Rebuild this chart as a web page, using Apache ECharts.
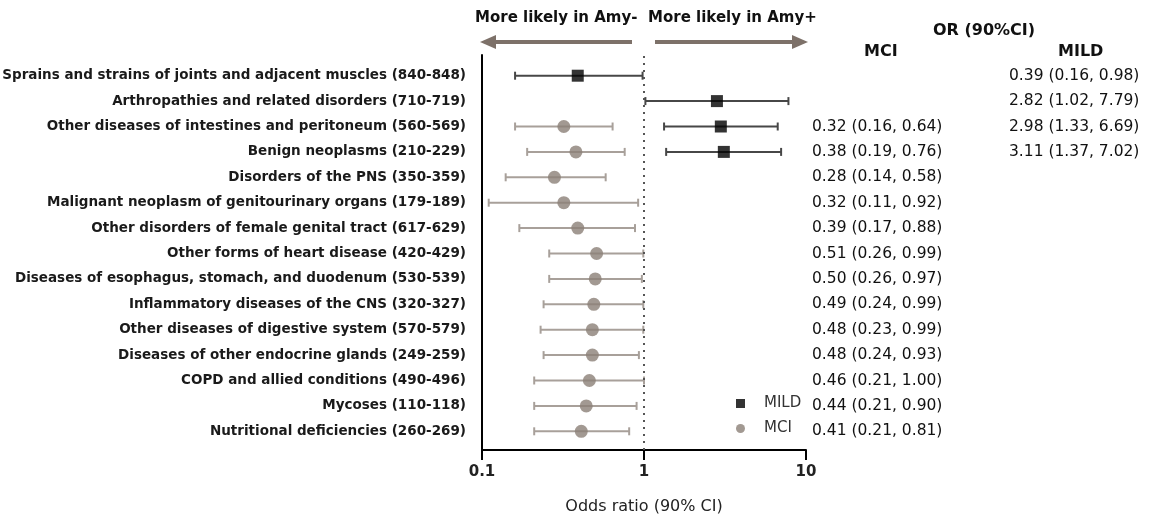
<!DOCTYPE html>
<html>
<head>
<meta charset="utf-8">
<script src="https://cdn.jsdelivr.net/npm/echarts@6/dist/echarts.min.js"></script>
<style>
  html, body { margin: 0; padding: 0; background: #fff; }
  #main { width: 1150px; height: 519px; }
</style>
</head>
<body>
<div id="main"></div>
<script>
const categories = [
  "Sprains and strains of joints and adjacent muscles (840-848)",
  "Arthropathies and related disorders (710-719)",
  "Other diseases of intestines and peritoneum (560-569)",
  "Benign neoplasms (210-229)",
  "Disorders of the PNS (350-359)",
  "Malignant neoplasm of genitourinary organs (179-189)",
  "Other disorders of female genital tract (617-629)",
  "Other forms of heart disease (420-429)",
  "Diseases of esophagus, stomach, and duodenum (530-539)",
  "Inflammatory diseases of the CNS (320-327)",
  "Other diseases of digestive system (570-579)",
  "Diseases of other endocrine glands (249-259)",
  "COPD and allied conditions (490-496)",
  "Mycoses (110-118)",
  "Nutritional deficiencies (260-269)"
];

// null = not reported for that group
const mciOR = [null, null, 0.32, 0.38, 0.28, 0.32, 0.39, 0.51, 0.50, 0.49, 0.48, 0.48, 0.46, 0.44, 0.41];
const mciLow = [null, null, 0.16, 0.19, 0.14, 0.11, 0.17, 0.26, 0.26, 0.24, 0.23, 0.24, 0.21, 0.21, 0.21];
const mciHigh = [null, null, 0.64, 0.76, 0.58, 0.92, 0.88, 0.99, 0.97, 0.99, 0.99, 0.93, 1.00, 0.90, 0.81];

const mildOR = [0.39, 2.82, 2.98, 3.11, null, null, null, null, null, null, null, null, null, null, null];
const mildLow = [0.16, 1.02, 1.33, 1.37, null, null, null, null, null, null, null, null, null, null, null];
const mildHigh = [0.98, 7.79, 6.69, 7.02, null, null, null, null, null, null, null, null, null, null, null];

const xTicks = [0.1, 1, 10];

const chart = echarts.init(document.getElementById("main"));

function fmt(or, lo, hi) {
  if (or == null) return "";
  return or.toFixed(2) + " (" + lo.toFixed(2) + ", " + hi.toFixed(2) + ")";
}
const mciText = mciOR.map((v, i) => fmt(v, mciLow[i], mciHigh[i]));
const mildText = mildOR.map((v, i) => fmt(v, mildLow[i], mildHigh[i]));

function points(or) {
  const out = [];
  or.forEach((v, i) => { if (v != null) out.push([v, categories[i]]); });
  return out;
}
function intervals(lo, hi) {
  const out = [];
  lo.forEach((v, i) => { if (v != null) out.push([v, hi[i], categories[i]]); });
  return out;
}

function errorBar(color) {
  return function (params, api) {
    const a = api.coord([api.value(0), api.value(2)]);
    const b = api.coord([api.value(1), api.value(2)]);
    const cap = 4;
    const style = { stroke: color, lineWidth: 2 };
    return {
      type: "group",
      children: [
        { type: "line", shape: { x1: a[0], y1: a[1], x2: b[0], y2: b[1] }, style: style },
        { type: "line", shape: { x1: a[0], y1: a[1] - cap, x2: a[0], y2: a[1] + cap }, style: style },
        { type: "line", shape: { x1: b[0], y1: b[1] - cap, x2: b[0], y2: b[1] + cap }, style: style }
      ]
    };
  };
}

const LEFT = 482, RIGHT = 344;
const arrowColor = "#7d7169";
const FONT = "DejaVu Sans";

chart.setOption({
  backgroundColor: "#fff",
  animation: false,
  textStyle: { fontFamily: FONT },
  legend: {
    orient: "vertical",
    left: 731,
    top: 391,
    itemWidth: 9,
    itemHeight: 9,
    itemGap: 10,
    textStyle: { fontSize: 15, color: "#333", lineHeight: 14, padding: [0, 0, 0, 14] },
    data: ["MILD", "MCI"]
  },
  grid: [
    { left: LEFT, right: RIGHT, top: 63, height: 381, outerBoundsMode: "none" },
    { left: LEFT, right: RIGHT, top: 55, bottom: 69, outerBoundsMode: "none" }
  ],
  xAxis: [
    { gridIndex: 0, type: "log", logBase: 10, min: xTicks[0], max: xTicks[2], show: false },
    {
      gridIndex: 1, type: "log", logBase: 10, min: xTicks[0], max: xTicks[2],
      name: "Odds ratio (90% CI)",
      nameLocation: "middle",
      nameGap: 49,
      nameTextStyle: { fontSize: 16, color: "#222" },
      axisLine: { lineStyle: { color: "#000", width: 2 } },
      axisTick: { length: 10, lineStyle: { color: "#000", width: 2 } },
      minorTick: { show: false },
      splitLine: { show: false },
      axisLabel: { fontSize: 15, fontWeight: "bold", color: "#222", margin: 15 }
    }
  ],
  yAxis: [
    {
      gridIndex: 0, type: "category", inverse: true, data: categories,
      axisLine: { show: false },
      axisTick: { show: false },
      axisLabel: { fontSize: 13.5, fontWeight: "bold", color: "#1a1a1a", margin: 16 }
    },
    {
      gridIndex: 0, type: "category", inverse: true, position: "right", data: mciText,
      axisLine: { show: false },
      axisTick: { show: false },
      axisLabel: { fontSize: 15.5, color: "#111", align: "left", margin: 6 }
    },
    {
      gridIndex: 0, type: "category", inverse: true, position: "right", offset: 197, data: mildText,
      axisLine: { show: false },
      axisTick: { show: false },
      axisLabel: { fontSize: 15.5, color: "#111", align: "left", margin: 6 }
    },
    {
      gridIndex: 1, type: "value", min: 0, max: 1,
      axisLine: { show: true, lineStyle: { color: "#000", width: 2 } },
      axisTick: { show: false },
      axisLabel: { show: false },
      splitLine: { show: false }
    }
  ],
  series: [
    {
      type: "custom", xAxisIndex: 0, yAxisIndex: 0, z: 1,
      renderItem: errorBar("#a8a09a"),
      encode: { x: [0, 1], y: 2 },
      data: intervals(mciLow, mciHigh)
    },
    {
      type: "custom", xAxisIndex: 0, yAxisIndex: 0, z: 1,
      renderItem: errorBar("#474747"),
      encode: { x: [0, 1], y: 2 },
      data: intervals(mildLow, mildHigh)
    },
    {
      name: "MILD", type: "scatter", xAxisIndex: 0, yAxisIndex: 0, z: 3,
      symbol: "rect", symbolSize: 12,
      itemStyle: { color: "#000" },
      data: points(mildOR)
    },
    {
      name: "MCI", type: "scatter", xAxisIndex: 0, yAxisIndex: 0, z: 3,
      symbol: "circle", symbolSize: 13,
      itemStyle: { color: "#8b8077" },
      data: points(mciOR)
    },
    {
      type: "scatter", xAxisIndex: 1, yAxisIndex: 3, data: [], silent: true,
      markLine: {
        symbol: "none", silent: true, label: { show: false },
        lineStyle: { color: "#555", type: [2, 5], width: 2 },
        data: [{ xAxis: 1 }]
      }
    }
  ],
  graphic: [
    { type: "text", left: 475, top: 11, style: { text: "More likely in Amy-", font: "bold 15px DejaVu Sans", fill: "#111" } },
    { type: "text", left: 648, top: 11, style: { text: "More likely in Amy+", font: "bold 15px DejaVu Sans", fill: "#111" } },
    { type: "line", shape: { x1: 632, y1: 42, x2: 492, y2: 42 }, style: { stroke: arrowColor, lineWidth: 4 } },
    { type: "polygon", shape: { points: [[480, 42], [496, 35], [496, 49]] }, style: { fill: arrowColor } },
    { type: "line", shape: { x1: 655, y1: 42, x2: 795, y2: 42 }, style: { stroke: arrowColor, lineWidth: 4 } },
    { type: "polygon", shape: { points: [[808, 42], [792, 35], [792, 49]] }, style: { fill: arrowColor } },
    { type: "text", left: 933, top: 23, style: { text: "OR (90%CI)", font: "bold 16px DejaVu Sans", fill: "#111" } },
    { type: "text", left: 864, top: 44, style: { text: "MCI", font: "bold 16px DejaVu Sans", fill: "#111" } },
    { type: "text", left: 1058, top: 44, style: { text: "MILD", font: "bold 16px DejaVu Sans", fill: "#111" } }
  ]
});
</script>
</body>
</html>
